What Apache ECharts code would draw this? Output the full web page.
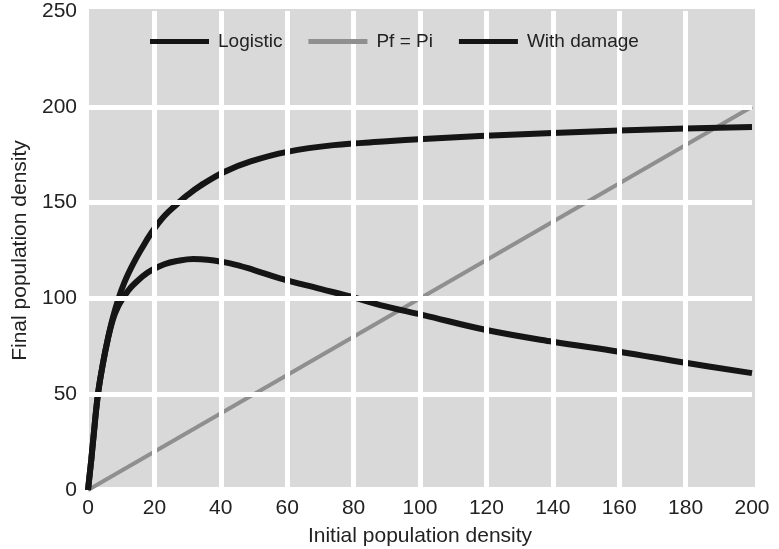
<!DOCTYPE html>
<html>
<head>
<meta charset="utf-8">
<script src="https://cdn.jsdelivr.net/npm/echarts@6/dist/echarts.min.js"></script>
<style>html,body{margin:0;padding:0;background:#fff;}#c{width:779px;height:549px;}</style>
</head>
<body>
<div id="c"></div>
<script>
// Tick values
const xTicks = [0, 20, 40, 60, 80, 100, 120, 140, 160, 180, 200];
const yTicks = [0, 50, 100, 150, 200, 250];
// Logistic curve
const logisticX = [0, 0.5, 1, 1.5, 3, 4.5, 6, 7.5, 9.2, 11, 13.6, 16, 19.2, 23, 27, 30, 34, 41, 49, 60, 74, 90, 101, 118, 140, 160, 180, 200];
const logisticY = [0, 8, 16, 25, 50, 66, 79, 90, 100, 108.5, 118, 125.5, 134.5, 143, 149.5, 154, 159, 166, 171.5, 176.5, 180, 182, 183.2, 184.7, 186.3, 187.6, 188.7, 189.5];
// Pf = Pi reference line
const identityX = [0, 200];
const identityY = [0, 200];
// With damage curve
const damageX = [0, 0.5, 1, 1.5, 3, 4.5, 6, 7.5, 9, 10.5, 12, 13.6, 18, 23, 27, 31.7, 36, 42.8, 50, 57.8, 70, 80, 88, 101, 120, 140, 160, 180, 200];
const damageY = [0, 8, 16, 25, 50, 66, 79, 89, 95.5, 100, 103.8, 107, 113.5, 117.8, 119.6, 120.6, 120.2, 118.3, 114.8, 110.5, 105, 100.5, 96.5, 91.3, 83.5, 77.4, 72.2, 66.4, 61];
const seriesNames = ['Logistic', 'Pf = Pi', 'With damage'];

const pairs = (xs, ys) => xs.map((x, i) => [x, ys[i]]);
const FONT = '"Liberation Sans", Arial, sans-serif';
const chart = echarts.init(document.getElementById('c'), null, {renderer: 'canvas'});

const innerX = xTicks.slice(1, -1);
const innerY = yTicks.slice(1, -1);

chart.setOption({
  animation: false,
  backgroundColor: '#ffffff',
  graphic: [{
    type: 'rect', z: -10, silent: true,
    shape: {x: 89, y: 9, width: 666, height: 478},
    style: {fill: '#d9d9d9'}
  }],
  grid: {left: 88, right: 27, top: 11, bottom: 59, show: false, containLabel: false, outerBoundsMode: 'none'},
  legend: {
    left: 150, top: 32, padding: 0, zlevel: 1,
    icon: 'rect', itemWidth: 59, itemHeight: 5, itemGap: 26,
    textStyle: {fontFamily: FONT, fontSize: 19, color: '#222', padding: [0, 0, 0, 4]},
    data: seriesNames
  },
  xAxis: {
    type: 'value', min: 0, max: 200, interval: 20,
    name: 'Initial population density', nameLocation: 'middle', nameGap: 36,
    nameTextStyle: {fontFamily: FONT, fontSize: 21, color: '#222'},
    axisLine: {show: false}, axisTick: {show: false}, splitLine: {show: false},
    axisLabel: {fontFamily: FONT, fontSize: 21, color: '#222', margin: 8,
      formatter: v => xTicks.includes(v) ? String(v) : ''}
  },
  yAxis: {
    type: 'value', min: 0, max: 250, interval: 50,
    name: 'Final population density', nameLocation: 'middle', nameGap: 54,
    nameTextStyle: {fontFamily: FONT, fontSize: 21, color: '#222'},
    axisLine: {show: false}, axisTick: {show: false}, splitLine: {show: false},
    axisLabel: {fontFamily: FONT, fontSize: 21, color: '#222', margin: 11,
      formatter: v => yTicks.includes(v) ? String(v) : ''}
  },
  series: [
    {
      name: 'gridlines', type: 'line', data: [], z: 1, silent: true,
      markLine: {
        silent: true, symbol: 'none', animation: false,
        label: {show: false},
        lineStyle: {color: '#ffffff', width: 5, type: 'solid'},
        data: innerX.map(v => ({xAxis: v})).concat(innerY.map(v => ({yAxis: v})))
      }
    },
    {
      name: seriesNames[1], type: 'line', data: pairs(identityX, identityY),
      showSymbol: false, symbol: 'none', z: 3,
      lineStyle: {color: '#8f8f8f', width: 4, cap: 'butt'}, itemStyle: {color: '#8f8f8f'}
    },
    {
      name: seriesNames[0], type: 'line', data: pairs(logisticX, logisticY),
      showSymbol: false, symbol: 'none', smooth: 0.4, z: 4,
      lineStyle: {color: '#151515', width: 6, cap: 'butt'}, itemStyle: {color: '#151515'}
    },
    {
      name: seriesNames[2], type: 'line', data: pairs(damageX, damageY),
      showSymbol: false, symbol: 'none', smooth: 0.4, z: 4,
      lineStyle: {color: '#151515', width: 6, cap: 'butt'}, itemStyle: {color: '#151515'}
    }
  ]
});
</script>
</body>
</html>
